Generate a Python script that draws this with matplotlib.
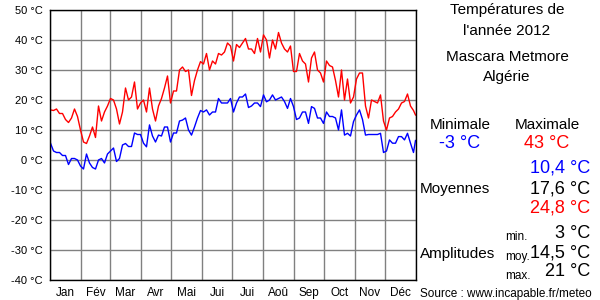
import matplotlib
matplotlib.use("Agg")
import matplotlib.pyplot as plt

plt.rcParams['font.family'] = ['Liberation Sans', 'DejaVu Sans']

# jours (0 = 1er janvier 2012), relevés tous les 3 jours
jours = list(range(0, 366, 3)) + [365]

tmax = [16.7, 16.5, 17, 15.5, 15.5, 13.5, 12.5, 14, 17, 14.5,
        10, 6, 5.5, 8, 11, 7.5, 18, 13, 16, 18,
        20.5, 20, 17, 12, 16, 24, 20, 21, 26, 17,
        19, 20, 16, 24, 17, 13, 18, 20.5, 24, 28,
        19, 23, 23, 30, 31, 29.5, 30, 21.5, 26.5, 30,
        32.8, 32, 35.5, 30, 33, 32, 35.5, 35, 36, 39,
        38, 33, 38.5, 37.5, 39, 40.5, 37, 37, 35.5, 40.5,
        36, 41.7, 40, 34, 40, 37, 42.5, 39, 37, 36,
        38, 29.5, 29.5, 35.5, 33, 32, 26, 34, 36, 30,
        29, 26, 33, 31.5, 31, 26.5, 21, 30, 20, 27,
        19, 21, 27, 29, 29, 18, 14, 20, 19.5, 19,
        21.7, 13, 10, 14, 14.5, 16, 17, 19, 19.5, 22,
        18, 16.5, 15]

tmin = [5.6, 3, 2.5, 2.5, 1.5, 1.5, -1.5, 0.5, 0.5, 0,
        -2, -3, 2, -1, -2.5, -3, 0, 0.5, -1, 2,
        3, 4, -0.5, 0.5, 5, 5.5, 4.5, 4.5, 9, 8.5,
        8.5, 5.6, 4.4, 11.7, 8, 6, 8.3, 8, 11, 11,
        6, 9, 9, 13, 13.3, 14, 10, 8.3, 11, 14,
        16.5, 16, 16.7, 15, 16, 16, 20.5, 19, 19, 19,
        20.5, 16, 19, 21, 21, 22, 17.5, 18, 19, 19,
        17.8, 21.7, 19.4, 20, 21.7, 20, 20.5, 21, 19.5, 17.2,
        20.5, 17.8, 13.5, 14, 16, 16, 12.2, 17.8, 17.2, 14,
        14, 12.2, 16, 14.5, 14.5, 14, 10, 16.7, 8.3, 8.9,
        8, 12.8, 15, 16.7, 13.5, 8.3, 8.5, 8.5, 8.5, 8.5,
        8.9, 2.5, 3, 6.7, 5.6, 5.6, 7.8, 7.8, 6.7, 8.9,
        5.6, 2.5, 6.5]

mois = ['Jan', 'Fév', 'Mar', 'Avr', 'Mai', 'Jui', 'Jui', 'Aoû', 'Sep', 'Oct', 'Nov', 'Déc']
debut_mois = [0, 31, 60, 91, 121, 152, 182, 213, 244, 274, 305, 335, 366]

fig = plt.figure(figsize=(6, 3), dpi=100)
ax = fig.add_axes([50/600, 20/300, 366/600, 270/300])

x = [j + 0.5 for j in jours]
ax.plot(x, tmax, color='red', lw=1)
ax.plot(x, tmin, color='blue', lw=1)

ax.set_xlim(0, 366)
ax.set_ylim(-40, 50)
ax.set_yticks(range(-40, 51, 10))
ax.set_yticklabels([f'{v} °C' for v in range(-40, 51, 10)], fontsize=8)
ax.set_xticks(debut_mois)
ax.set_xticklabels([])
ax.set_xticks([(debut_mois[i] + debut_mois[i+1]) / 2 for i in range(12)], minor=True)
ax.set_xticklabels(mois, minor=True, fontsize=8.5)
ax.tick_params(which='both', length=0, pad=5)
ax.grid(True, color='#808080', lw=1)
ax.set_axisbelow(True)
for s in ax.spines.values():
    s.set_color('black')
    s.set_linewidth(1)

def t(xp, yp, s, **kw):
    fig.text(xp/600, 1 - yp/300, s, va='center', **kw)

t(507, 10, 'Températures de', ha='center', fontsize=11)
t(507, 31, "l'année 2012", ha='center', fontsize=11)
t(507, 57, 'Mascara Metmore', ha='center', fontsize=11)
t(507, 77, 'Algérie', ha='center', fontsize=11)
t(460, 125, 'Minimale', ha='center', fontsize=11)
t(547, 125, 'Maximale', ha='center', fontsize=11)
t(460, 143, '-3 °C', ha='center', fontsize=13, color='blue')
t(547, 143, '43 °C', ha='center', fontsize=13, color='red')
t(590, 168, '10,4 °C', ha='right', fontsize=13, color='blue')
t(420, 189, 'Moyennes', ha='left', fontsize=11)
t(590, 189, '17,6 °C', ha='right', fontsize=13, color='black')
t(590, 208, '24,8 °C', ha='right', fontsize=13, color='red')
t(505, 237, 'min.', ha='left', fontsize=8.5)
t(590, 233, '3 °C', ha='right', fontsize=13)
t(420, 254, 'Amplitudes', ha='left', fontsize=11)
t(505, 257, 'moy.', ha='left', fontsize=8.5)
t(590, 253, '14,5 °C', ha='right', fontsize=13)
t(505, 276, 'max.', ha='left', fontsize=8.5)
t(590, 272, '21 °C', ha='right', fontsize=13)
t(420, 294, 'Source : www.incapable.fr/meteo', ha='left', fontsize=8.5)

fig.savefig('out.png', dpi=100)
